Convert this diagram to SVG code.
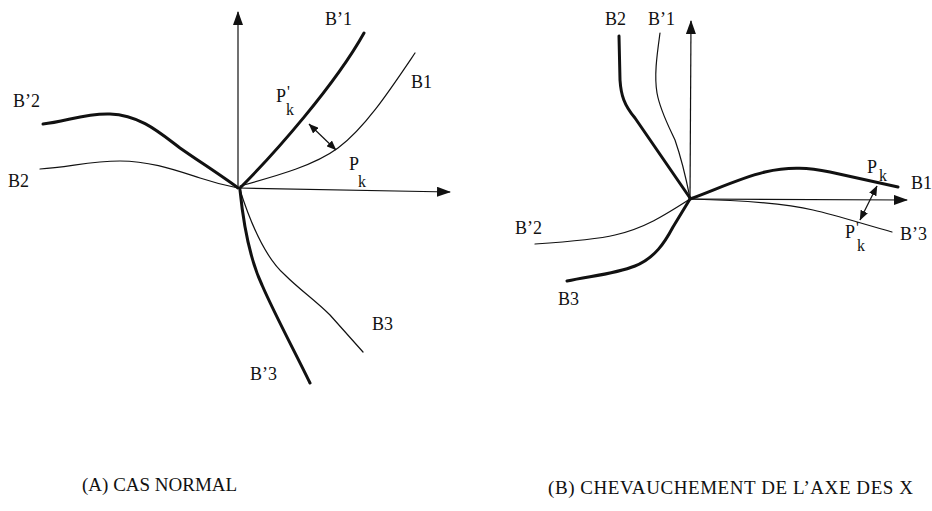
<svg xmlns="http://www.w3.org/2000/svg" width="932" height="511" viewBox="0 0 932 511">
<style>
.thin{fill:none;stroke:#111;stroke-width:1.2;stroke-linecap:round;stroke-linejoin:round}
.thick{fill:none;stroke:#111;stroke-width:3;stroke-linecap:round;stroke-linejoin:round}
.axis{fill:none;stroke:#111;stroke-width:1.2}
.dbl{fill:none;stroke:#111;stroke-width:1.2}
text{font-family:"Liberation Serif","Times New Roman",serif;fill:#111}
.lbl{font-size:18px}
.sub{font-size:16px}
.cap{font-size:19px}
</style>
<defs>
<marker id="ah" markerUnits="userSpaceOnUse" markerWidth="14" markerHeight="10" refX="13" refY="5" orient="auto">
<path d="M0,0 L14,5 L0,10 Z" fill="#111"/>
</marker>
<marker id="ahs" markerUnits="userSpaceOnUse" markerWidth="10" markerHeight="8" refX="9.5" refY="4" orient="auto-start-reverse">
<path d="M0,0 L10,4 L0,8 Z" fill="#111"/>
</marker>
</defs>
<rect width="932" height="511" fill="#fff"/>

<g id="diagramA">
<g id="axesA">
<line class="axis" x1="238" y1="188" x2="238" y2="12" marker-end="url(#ah)"/>
<line class="axis" x1="238" y1="188" x2="450" y2="192" marker-end="url(#ah)"/>
</g>
<g id="curvesA">
<path id="A_Bp1" class="thick" d="M240,188 C275,153 335,85 364,33"/>
<path id="A_B1" class="thin" d="M240,186 C280,175 315,165 338,148 C365,128 390,90 415,53"/>
<path id="A_Bp2" class="thick" d="M43,124 C65,122 85,113 110,114 C140,115 160,133 180,148 C200,162 225,178 238,188"/>
<path id="A_B2" class="thin" d="M40,169 C70,167 90,161 120,161 C150,161 175,170 200,178 C215,183 228,186 238,188"/>
<path id="A_Bp3" class="thick" d="M240,190 C243,220 248,255 262,285 C275,315 295,352 310,383"/>
<path id="A_B3" class="thin" d="M240,190 C248,215 262,255 285,275 C300,290 315,300 330,315 L363,352"/>
<line id="A_dist" class="dbl" x1="309" y1="124" x2="336" y2="150" marker-start="url(#ahs)" marker-end="url(#ahs)"/>
</g>
<g id="labelsA">
<text class="lbl" x="325" y="25">B’1</text>
<text class="lbl" x="411" y="88">B1</text>
<text class="lbl" x="13" y="107">B’2</text>
<text class="lbl" x="8" y="187">B2</text>
<text class="lbl" x="372" y="330">B3</text>
<text class="lbl" x="250" y="380">B’3</text>
<text class="lbl" x="276" y="102">P<tspan class="sub" dx="1" dy="-5">'</tspan></text>
<text class="sub" x="286" y="115">k</text>
<text class="lbl" x="349" y="170">P</text>
<text class="sub" x="358" y="187">k</text>
</g>
<text id="captionA" class="cap" x="82" y="491">(A) CAS NORMAL</text>
</g>

<g id="diagramB">
<g id="axesB">
<line class="axis" x1="690" y1="199" x2="691" y2="21" marker-end="url(#ah)"/>
<line class="axis" x1="690" y1="199" x2="907" y2="200" marker-end="url(#ah)"/>
</g>
<g id="curvesB">
<path id="B_B2" class="thick" d="M619,36 L620,80 C621,95 624,105 635,118 L690,198"/>
<path id="B_Bp1" class="thin" d="M660,33 C657,55 654,75 657,93 C660,110 668,125 675,140 C682,160 686,178 690,198"/>
<path id="B_B1" class="thick" d="M690,199 C715,190 740,178 765,172 C790,166 810,168 830,172 L898,187"/>
<path id="B_Bp3" class="thin" d="M690,199 C730,200 780,202 813,210 C835,215 860,223 892,232"/>
<path id="B_Bp2" class="thin" d="M535,244 C565,242 595,240 615,235 C645,228 665,215 690,199"/>
<path id="B_B3" class="thick" d="M567,281 C590,276 615,274 635,266 C655,258 665,242 673,227 L690,199"/>
<line id="B_dist" class="dbl" x1="877" y1="186" x2="860" y2="220" marker-start="url(#ahs)" marker-end="url(#ahs)"/>
</g>
<g id="labelsB">
<text class="lbl" x="605" y="25">B2</text>
<text class="lbl" x="648" y="25">B’1</text>
<text class="lbl" x="911" y="189">B1</text>
<text class="lbl" x="900" y="240">B’3</text>
<text class="lbl" x="515" y="234">B’2</text>
<text class="lbl" x="558" y="305">B3</text>
<text class="lbl" x="867" y="173">P</text>
<text class="sub" x="879" y="181">k</text>
<text class="lbl" x="845" y="238">P<tspan class="sub" dx="1" dy="-5">'</tspan></text>
<text class="sub" x="857" y="251">k</text>
</g>
<text id="captionB" class="cap" x="548" y="494" textLength="365" lengthAdjust="spacing">(B) CHEVAUCHEMENT DE L’AXE DES X</text>
</g>
</svg>
